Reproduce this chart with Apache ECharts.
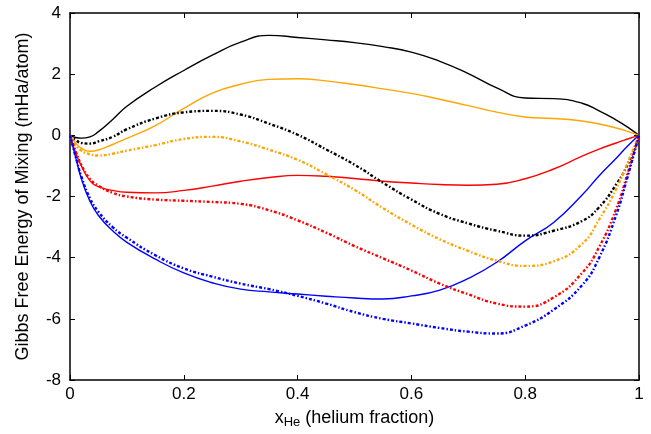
<!DOCTYPE html>
<html>
<head>
    <meta charset="utf-8">
    <title>Gibbs free energy of mixing</title>
    <script src="https://cdn.jsdelivr.net/npm/echarts@6/dist/echarts.min.js"></script>
    <style>
        html, body {margin:0;padding:0;background:#fff;}
        #chart {width:651px;height:434px;}
    </style>
</head>
<body>
<div id="chart"></div>
<script>
    // helium fraction samples (shared by every curve)
    const xHe = [0, 0.01, 0.02, 0.035, 0.05, 0.075, 0.1, 0.15, 0.2, 0.25, 0.3, 0.35, 0.4, 0.45, 0.5,
        0.55, 0.6, 0.65, 0.7, 0.75, 0.8, 0.85, 0.9, 0.93, 0.96, 0.98, 1];

    // solid curves
    const blackSolid = [0, -0.07, -0.09, -0.05, 0.12, 0.52, 0.95, 1.58, 2.12, 2.62, 3.05, 3.27, 3.2, 3.12, 3.03,
        2.9, 2.72, 2.42, 2.02, 1.55, 1.22, 1.2, 1.05, 0.8, 0.5, 0.27, 0];
    const orangeSolid = [0, -0.25, -0.42, -0.52, -0.48, -0.3, -0.1, 0.32, 0.88, 1.38, 1.67, 1.83, 1.85, 1.78, 1.66,
        1.52, 1.37, 1.18, 0.97, 0.76, 0.6, 0.55, 0.47, 0.37, 0.24, 0.13, 0];
    const redSolid = [0, -0.57, -1.0, -1.48, -1.68, -1.8, -1.86, -1.88, -1.8, -1.66, -1.5, -1.38, -1.31, -1.34, -1.41,
        -1.5, -1.56, -1.61, -1.63, -1.6, -1.42, -1.1, -0.68, -0.45, -0.25, -0.12, 0];
    const blueSolid = [0, -0.72, -1.42, -2.15, -2.62, -3.12, -3.5, -4.05, -4.5, -4.82, -5.03, -5.12, -5.19, -5.26, -5.32,
        -5.35, -5.25, -5.06, -4.68, -4.15, -3.45, -2.85, -1.95, -1.32, -0.75, -0.35, 0];

    // dash-dot curves
    const blackDash = [0, -0.15, -0.25, -0.27, -0.2, -0.05, 0.2, 0.55, 0.75, 0.8, 0.68, 0.38, 0.02, -0.46, -0.96,
        -1.55, -2.1, -2.57, -2.88, -3.12, -3.28, -3.12, -2.8, -2.35, -1.6, -0.95, 0];
    const orangeDash = [0, -0.3, -0.5, -0.62, -0.66, -0.6, -0.5, -0.32, -0.12, -0.05, -0.2, -0.47, -0.8, -1.27, -1.78,
        -2.38, -2.92, -3.4, -3.78, -4.1, -4.27, -4.12, -3.55, -2.75, -1.75, -0.9, 0];
    const redDash = [0, -0.52, -0.97, -1.42, -1.65, -1.88, -2.0, -2.1, -2.14, -2.18, -2.24, -2.45, -2.78, -3.18, -3.62,
        -4.02, -4.42, -4.85, -5.2, -5.5, -5.6, -5.3, -4.5, -3.65, -2.4, -1.25, 0];
    const blueDash = [0, -0.7, -1.35, -2.05, -2.5, -3.0, -3.35, -3.92, -4.35, -4.62, -4.85, -5.03, -5.25, -5.5, -5.78,
        -6.0, -6.15, -6.3, -6.42, -6.48, -6.22, -5.7, -4.9, -4.0, -2.6, -1.35, 0];

    const xTicks = [0, 0.2, 0.4, 0.6, 0.8, 1];
    const yTicks = [-8, -6, -4, -2, 0, 2, 4];

    const font = 'Liberation Sans, Arial, sans-serif';
    const dashDot = [3, 2, 1.5, 2];

    function pairs(ys) {
        return xHe.map(function (x, i) { return [x, ys[i]]; });
    }

    function curve(ys, color, dashed) {
        return {
            type: 'line',
            data: pairs(ys),
            smooth: 0.5,
            showSymbol: false,
            animation: false,
            lineStyle: {
                color: color,
                width: dashed ? 2.4 : 1.4,
                type: dashed ? dashDot : 'solid'
            }
        };
    }

    const frameLine = {show: true, onZero: false, lineStyle: {color: '#000', width: 1.5}};
    const inTick = {show: true, inside: true, length: 5, lineStyle: {color: '#000', width: 1}};

    const chart = echarts.init(document.getElementById('chart'));
    chart.setOption({
        backgroundColor: '#fff',
        animation: false,
        grid: {left: 70, right: 12, top: 13, bottom: 52},
        xAxis: [{
            type: 'value', min: 0, max: 1, interval: 0.2,
            axisLine: frameLine, axisTick: inTick, splitLine: {show: false},
            axisLabel: {
                color: '#000', fontFamily: font, fontSize: 17, margin: 6,
                formatter: function (v) { return xTicks.indexOf(+v.toFixed(1)) >= 0 ? String(+v.toFixed(1)) : ''; }
            },
            name: '{m|x}{s|He}{m| (helium fraction)}',
            nameLocation: 'middle', nameGap: 27,
            nameTextStyle: {
                rich: {
                    m: {fontFamily: font, fontSize: 18, color: '#000', lineHeight: 22},
                    s: {fontFamily: font, fontSize: 13, color: '#000', lineHeight: 22, verticalAlign: 'bottom', padding: [7, 0, 0, 0]}
                }
            }
        }, {
            type: 'value', min: 0, max: 1, interval: 0.2, position: 'top',
            axisLine: frameLine, axisTick: inTick, axisLabel: {show: false}, splitLine: {show: false}
        }],
        yAxis: [{
            type: 'value', min: -8, max: 4, interval: 2,
            axisLine: frameLine, axisTick: inTick, splitLine: {show: false},
            axisLabel: {
                color: '#000', fontFamily: font, fontSize: 17, margin: 9,
                formatter: function (v) { return yTicks.indexOf(v) >= 0 ? String(v) : ''; }
            },
            name: 'Gibbs Free Energy of Mixing (mHa/atom)',
            nameLocation: 'middle', nameGap: 38, nameRotate: 90,
            nameTextStyle: {fontFamily: font, fontSize: 18, color: '#000'}
        }, {
            type: 'value', min: -8, max: 4, interval: 2, position: 'right',
            axisLine: frameLine, axisTick: inTick, axisLabel: {show: false}, splitLine: {show: false}
        }],
        series: [
            curve(blackSolid, '#000000', false),
            curve(orangeSolid, '#ffa500', false),
            curve(redSolid, '#ff0000', false),
            curve(blueSolid, '#0000ff', false),
            curve(blackDash, '#000000', true),
            curve(orangeDash, '#ffa500', true),
            curve(redDash, '#ff0000', true),
            curve(blueDash, '#0000ff', true)
        ]
    });
</script>
</body>
</html>
